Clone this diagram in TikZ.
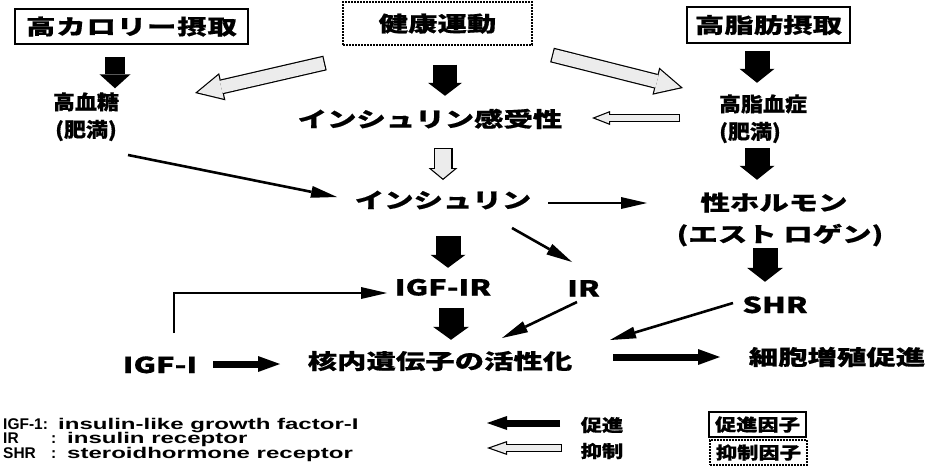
\documentclass[tikz,border=0pt]{standalone}
\usepackage{fontspec}
\usetikzlibrary{arrows.meta,calc}
\newfontfamily\jpA{Noto Sans CJK JP}[FakeStretch=1.4,BoldFeatures={FakeBold=0.6}]
\newfontfamily\jpB{Noto Sans CJK JP}[FakeStretch=1.1,BoldFeatures={FakeBold=0.6}]
\newfontfamily\jpC{Noto Sans CJK JP}[FakeStretch=1.25,BoldFeatures={FakeBold=0.6}]
\newfontfamily\legD{Liberation Sans}[FakeStretch=1.55]
\newfontfamily\legL{Liberation Sans}
\begin{document}
\begin{tikzpicture}[x=1pt,y=-1pt,
  tbig/.style={inner sep=0pt, font=\jpA\bfseries\fontsize{21}{21}\selectfont, text height=18pt, text depth=2pt},
  tmid/.style={inner sep=0pt, font=\jpB\bfseries\fontsize{20}{20}\selectfont, text height=17pt, text depth=2pt},
  tlat/.style={inner sep=0pt, font=\jpA\bfseries\fontsize{22}{22}\selectfont, text height=16pt, text depth=0pt},
  tleg/.style={inner sep=0pt, font=\jpC\bfseries\fontsize{17}{17}\selectfont},
  legd/.style={inner sep=0pt, anchor=base west, font=\legD\bfseries\fontsize{15.5}{15.5}\selectfont},
  legl/.style={inner sep=0pt, anchor=base west, font=\legL\bfseries\fontsize{15.5}{15.5}\selectfont},
  frame/.style={draw, line width=1.6pt, inner sep=0pt},
  dframe/.style={draw, line width=1.4pt, dash pattern=on 1.6pt off 1.4pt, inner sep=0pt},
  blk/.style n args={3}{line width=#1, -{Triangle[width=#2,length=#3,line width=0pt]}},
  inh/.style n args={7}{line width=#1, -{Triangle[width=#2,length=#3,line width=0pt]},
     postaction={draw=gray!15, line width=#4, -{Triangle[width=#5,length=#6,line width=0pt]}, shorten >=#7, shorten <=1.2pt}},
  thin/.style={line width=2.6pt, -{Triangle[width=12pt,length=26pt,line width=0pt]}},
  thk/.style={line width=7pt, -{Triangle[width=16pt,length=22pt,line width=0pt]}},
  legthk/.style={line width=7pt, -{Triangle[width=14pt,length=20pt,line width=0pt]}}
]
\useasboundingbox (0,0) rectangle (937,472);

% text nodes
\node[frame,tbig,minimum width=233pt,minimum height=35pt] (hc) at (131.5,26.5) {\addfontfeature{LetterSpace=4}高カロリー摂取};
\node[dframe,tbig,minimum width=189pt,minimum height=43pt] (ex) at (437.5,23.5) {健康運動};
\node[frame,tbig,minimum width=163pt,minimum height=36pt] (hf) at (768.5,25) {高脂肪摂取};
\node[tmid] (hbt) at (86,102) {高血糖};
\node[tmid] (hbt2) at (86,129.5) {(肥満)};
\node[tbig] (isens) at (430,119) {インシュリン感受性};
\node[tmid] (hlip) at (763,104) {高脂血症};
\node[tmid] (hlip2) at (750,131.5) {(肥満)};
\node[tbig] (ins) at (443,200) {インシュリン};
\node[tbig] (sex) at (774,202.5) {性ホルモン};
\node[tbig] (estro) at (780,234) {(エスト ロゲン)};
\node[tlat] (igfir) at (443,287.5) {IGF-IR};
\node[tlat] (ir) at (583.5,288.5) {IR};
\node[tlat] (shr) at (775,305) {SHR};
\node[tlat] (igf1) at (160,365) {IGF-I};
\node[tbig] (nuc) at (440,361) {核内遺伝子の活性化};
\node[tbig] (cell) at (837,357) {細胞増殖促進};

% black block arrows
\draw[blk={20pt}{31pt}{14pt}, shorten <=12pt, shorten >=4pt] ([xshift=-16.5pt]hc.south) -- ([xshift=29pt]hbt.north);
\draw[blk={24pt}{34pt}{13pt}, shorten <=19pt, shorten >=13pt] ([xshift=7.5pt]ex.south) -- ([xshift=15pt]isens.north);
\draw[blk={25pt}{35pt}{14pt}, shorten <=7pt, shorten >=11.5pt] ([xshift=-11.5pt]hf.south) -- ([xshift=-6pt]hlip.north);
\draw[blk={25pt}{35pt}{14pt}, shorten <=7pt, shorten >=12.5pt] ([xshift=7pt]hlip2.south) -- ([xshift=-17pt]sex.north);
\draw[blk={25pt}{36pt}{14pt}, shorten <=4pt, shorten >=15pt] ([xshift=-15pt]estro.south) -- ([xshift=-10pt]shr.north);
\draw[blk={25pt}{35pt}{13pt}, shorten <=26pt, shorten >=11.5pt] ([xshift=5pt]ins.south) -- ([xshift=5pt]igfir.north);
\draw[blk={25pt}{36pt}{13pt}, shorten <=12.5pt, shorten >=11pt] ([xshift=8pt]igfir.south) -- ([xshift=11pt]nuc.north);

% inhibition arrows
\draw[inh={15pt}{28pt}{28pt}{12.6pt}{24.1pt}{24.1pt}{2.7pt}] ([shift={(-112.5,39.5)}]ex.center) -- ([shift={(109,-9)}]hbt.center);
\draw[inh={15pt}{28pt}{28pt}{12.6pt}{24.1pt}{24.1pt}{2.7pt}] ([shift={(114.5,31.5)}]ex.center) -- ([shift={(-80,-16)}]hlip.center);
\draw[inh={8pt}{14pt}{18pt}{5.6pt}{10.5pt}{13.5pt}{3.3pt}] ([shift={(-83,14)}]hlip.center) -- ([shift={(162,-1)}]isens.center);
\draw[inh={19pt}{29pt}{12pt}{16.6pt}{22.3pt}{9.2pt}{1.6pt}] ([shift={(13,29)}]isens.center) -- ([shift={(0,-20)}]ins.center);

% thin arrows
\draw[thin] ([shift={(42,25.5)}]hbt2.center) -- ([shift={(-106,-3)}]ins.center);
\draw[thin] ([shift={(105,3)}]ins.center) -- ([shift={(-127,0.5)}]sex.center);
\draw[thin] ([shift={(69,28)}]ins.center) -- ([shift={(-11.5,-26.5)}]ir.center);
\draw[thin] ([shift={(-6.5,13.5)}]ir.center) -- ([shift={(62,-23)}]nuc.center);
\draw[thin] ([shift={(-42,-2)}]shr.center) -- ([shift={(170,-21)}]nuc.center);
\draw[thin] ([shift={(14,-32)}]igf1.center) |- ([shift={(-56,5.5)}]igfir.center);

% thick arrows
\draw[thk] ([shift={(53,-1)}]igf1.center) -- ([shift={(-160,3)}]nuc.center);
\draw[thk] ([shift={(173,-4)}]nuc.center) -- ([shift={(-117,0)}]cell.center);

% legend
\coordinate (lpA) at (560,423);
\coordinate (lpB) at (487,423);
\draw[legthk] (lpA) -- (lpB);
\coordinate (liA) at (562,448);
\coordinate (liB) at (487,448);
\draw[inh={8pt}{14pt}{20pt}{5.6pt}{10.6pt}{15.2pt}{3.6pt}] (liA) -- (liB);
\node[tleg] (lp) at (602,425) {促進};
\node[tleg] (li) at (602,451) {抑制};
\node[frame, tleg, line width=1.5pt, minimum width=97pt, minimum height=25pt] (fp) at (757.5,424.5) {促進因子};
\node[dframe, tleg, minimum width=97pt, minimum height=25pt] (fi) at (758.5,452.5) {抑制因子};

\node[legl] (l1a) at (3,429) {IGF-1:};
\node[legd] (l1b) at (58,429) {insulin-like growth factor-I};
\node[legl] (l2a) at (3,443) {IR};
\node[legl] (l2c) at (51,443) {:};
\node[legd] (l2b) at (67,443) {insulin receptor};
\node[legl] (l3a) at (3,458) {SHR};
\node[legl] (l3c) at (51,458) {:};
\node[legd] (l3b) at (67,458) {steroidhormone receptor};
\end{tikzpicture}
\end{document}
